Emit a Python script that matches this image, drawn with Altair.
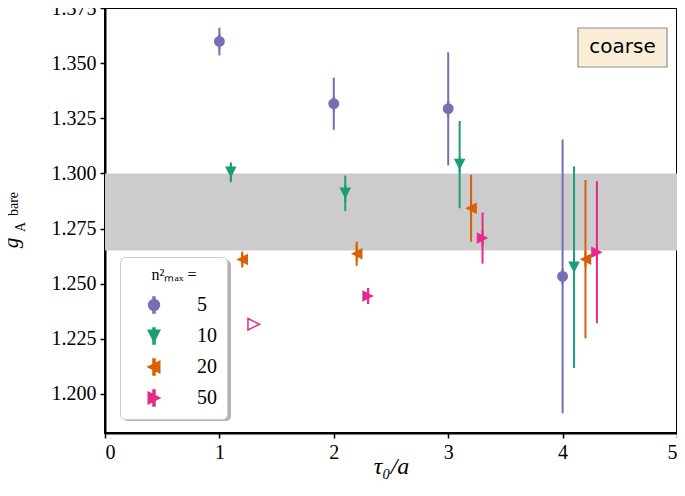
import altair as alt
import pandas as pd

# ---------------- data ----------------
series = ["5", "10", "20", "50"]
colors = ["#7570b3", "#1b9e77", "#d95f02", "#e7298a"]

n5_tau = [1.0, 2.0, 3.0, 4.0]
n5_g = [1.3598, 1.3316, 1.3293, 1.2533]
n5_err = [0.0063, 0.0118, 0.0256, 0.0621]

n10_tau = [1.1, 2.1, 3.1, 4.1]
n10_g = [1.3005, 1.2910, 1.3040, 1.2575]
n10_err = [0.0045, 0.0080, 0.0198, 0.0457]

n20_tau = [1.2, 2.2, 3.2, 4.2]
n20_g = [1.2610, 1.2636, 1.2842, 1.2611]
n20_err = [0.0028, 0.0055, 0.0152, 0.0359]

n50_tau = [2.3, 3.3, 4.3]
n50_g = [1.2444, 1.2707, 1.2643]
n50_err = [0.0035, 0.0116, 0.0322]

open_tau = [1.3]
open_g = [1.2316]

band_lo = [1.265]
band_hi = [1.300]

x_ticks = [0, 1, 2, 3, 4, 5]
y_ticks = [1.200, 1.225, 1.250, 1.275, 1.300, 1.325, 1.350, 1.375]

# ---------------- tables ----------------
rows = []
for s, taus, gs, errs in [("5", n5_tau, n5_g, n5_err), ("10", n10_tau, n10_g, n10_err),
                          ("20", n20_tau, n20_g, n20_err), ("50", n50_tau, n50_g, n50_err)]:
    for t, g, e in zip(taus, gs, errs):
        rows.append({"series": s, "tau": t, "g": g, "lo": g - e, "hi": g + e})
df = pd.DataFrame(rows)
df_open = pd.DataFrame({"tau": open_tau, "g": open_g})
df_band = pd.DataFrame({"x0": [0], "x1": [5], "lo": band_lo, "hi": band_hi})
one = pd.DataFrame({"a": [0]})

# custom symbols (marker + vertical errorbar stub), unit square [-1,1]
w = 0.125
a = 0.72
stub = f"M {-w} -1 L {w} -1 L {w} 1 L {-w} 1 Z"
shape_circle = f"M -0.68 0 A 0.68 0.68 0 1 1 0.68 0 A 0.68 0.68 0 1 1 -0.68 0 Z " + stub
shape_down = f"M {-a} {-a} L {a} {-a} L 0 {a} Z " + stub
shape_left = f"M {-a} 0 L {a} {-a} L {a} {a} Z " + stub
shape_right = f"M {-a} {-a} L {a} 0 L {-a} {a} Z " + stub
shape_open = f"M {-a} {-a} L {a} 0 L {-a} {a} Z"

W, H = 572, 425
SERIF = "Liberation Serif"

xscale = alt.Scale(domain=[0, 5], nice=False, zero=False)
yscale = alt.Scale(domain=[1.1823, 1.375], nice=False, zero=False)
cscale = alt.Scale(domain=series, range=colors)
sscale = alt.Scale(domain=series, range=[shape_circle, shape_down, shape_left, shape_right])

band = alt.Chart(df_band).mark_rect(color="#cccccc").encode(
    x=alt.X("x0:Q", scale=xscale,
            axis=alt.Axis(values=x_ticks, format="d", title="τ₀/a", titleFont=SERIF,
                          titleFontStyle="italic", titleFontWeight="normal", titleFontSize=24,
                          titleBaseline="middle", titleY=33)),
    x2="x1:Q",
    y=alt.Y("lo:Q", scale=yscale, axis=alt.Axis(values=y_ticks, format=".3f", title=None)),
    y2="hi:Q",
)

rules = alt.Chart(df).mark_rule(strokeWidth=2).encode(
    x=alt.X("tau:Q", scale=xscale),
    y=alt.Y("lo:Q", scale=yscale),
    y2="hi:Q",
    color=alt.Color("series:N", scale=cscale),
)

LEG = alt.Legend(title="n²ₘₐₓ =", orient="none", legendX=15, legendY=249)
points = alt.Chart(df).mark_point(filled=True, size=256, opacity=1).encode(
    x=alt.X("tau:Q", scale=xscale),
    y=alt.Y("g:Q", scale=yscale),
    color=alt.Color("series:N", scale=cscale, legend=LEG),
    shape=alt.Shape("series:N", scale=sscale, legend=LEG),
)

open_pt = alt.Chart(df_open).mark_point(filled=False, size=256, opacity=1, strokeWidth=1.5,
                                        shape=shape_open, color="#e7298a").encode(
    x=alt.X("tau:Q", scale=xscale),
    y=alt.Y("g:Q", scale=yscale),
)

# legend shadow (drawn under the legend box, offset down/right)
shadow = alt.Chart(one).mark_rect(color="#b3b3b3", cornerRadius=5).encode(
    x=alt.value(18), x2=alt.value(126), y=alt.value(252), y2=alt.value(413)
)

# "coarse" label box
cbox = alt.Chart(one).mark_rect(fill="#fbeed8", stroke="#8c8c8c", strokeWidth=1.2).encode(
    x=alt.value(473), x2=alt.value(562), y=alt.value(20), y2=alt.value(59)
)
ctext = alt.Chart(one).mark_text(text="coarse", font="DejaVu Sans", fontSize=20,
                                 align="center", baseline="middle", color="black").encode(
    x=alt.value(517.5), y=alt.value(39)
)

# y axis title  g_A^bare  (rotated, baseline = right side on screen)
yt_g = alt.Chart(one).mark_text(text="g", font=SERIF, fontStyle="italic", fontSize=21, angle=270,
                                align="center", baseline="alphabetic", color="black").encode(
    x=alt.value(-87), y=alt.value(235))
yt_A = alt.Chart(one).mark_text(text="A", font=SERIF, fontSize=14, angle=270,
                                align="center", baseline="alphabetic", color="black").encode(
    x=alt.value(-80.5), y=alt.value(219))
yt_bare = alt.Chart(one).mark_text(text="bare", font=SERIF, fontSize=14, angle=270,
                                   align="center", baseline="alphabetic", color="black").encode(
    x=alt.value(-87), y=alt.value(196))

chart = alt.layer(band, cbox, ctext, rules, points, open_pt, shadow, yt_g, yt_A, yt_bare).properties(
    width=W, height=H,
    padding={"left": 97, "top": 0, "right": 0, "bottom": 55},
    autosize=alt.AutoSizeParams(type="none"),
).configure_view(
    stroke="black", strokeWidth=2
).configure_axis(
    grid=False, domainColor="black", domainWidth=2, tickColor="black", tickSize=5, tickWidth=1.5,
    labelFont=SERIF, labelFontSize=20, labelColor="black", labelPadding=4, titleColor="black",
).configure_legend(
    titleFont=SERIF, titleFontSize=16, titleFontWeight="normal", titleColor="black",
    titleAnchor="middle", titlePadding=12,
    labelFont=SERIF, labelFontSize=20, labelColor="black", labelOffset=33,
    symbolSize=256, symbolOffset=14, rowPadding=9, padding=10,
    strokeColor="#cccccc", fillColor="white", cornerRadius=5,
)

chart.save("out.html", embed_options={"renderer": "svg", "actions": False})
